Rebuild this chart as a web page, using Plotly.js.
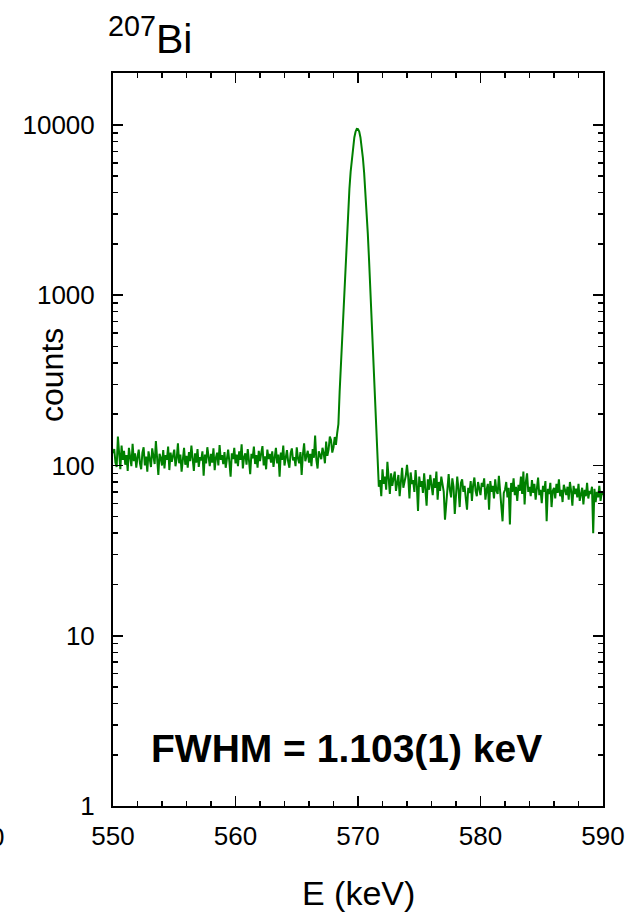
<!DOCTYPE html>
<html>
<head>
<meta charset="utf-8">
<script src="https://cdn.plot.ly/plotly-3.0.1.min.js"></script>
<style>html,body{margin:0;padding:0;background:#fff;}#chart{width:630px;height:920px;}</style>
</head>
<body>
<div id="chart"></div>
<script>
// Energy calibration of the spectrum channels (keV)
const E0 = 550.0;
const dE = 0.1;

// Counts, background left of the peak: 550.0 .. 568.2 keV
const leftCounts = [
  118,125,104,98,148,112,95,131,108,122,
  101,115,93,127,110,99,134,106,118,97,
  112,124,103,95,119,128,100,113,92,121,
  109,98,126,114,102,139,107,88,117,111,
  100,123,96,115,108,129,94,119,105,113,
  124,99,110,135,103,116,92,108,127,101,
  114,97,120,106,131,110,93,118,104,125,
  98,112,107,121,87,116,103,128,110,99,
  117,104,126,94,111,119,100,132,108,115,
  102,120,97,113,124,105,86,118,109,127,
  103,116,99,121,108,133,96,112,118,101,
  125,107,89,117,110,129,102,115,97,122,
  106,118,130,100,113,95,124,109,117,104,
  121,98,111,127,103,116,86,119,108,131,
  100,114,123,105,97,118,126,107,112,99,
  128,110,103,120,88,116,135,106,113,122,
  104,117,99,125,111,150,108,96,121,115,
  109,127,118,103,138,114,124,148,141,119,
  128,147,132
];

// Counts, photopeak region: 568.3 .. 571.7 keV
const peakCounts = [
  155,175,270,380,560,830,1210,1720,2400,3230,
  4220,5320,6450,7530,8450,9130,9480,9460,9150,8450,
  7500,6400,5250,4140,3140,2300,1630,1120,740,490,
  310,200,140,105,75
];

// Counts, background right of the peak: 571.8 .. 590.0 keV
const rightCounts = [
  82,66,
  95,78,86,72,105,81,68,90,76,84,
  92,71,80,88,66,83,97,74,79,87,
  101,85,64,91,78,82,70,94,77,54,
  86,75,81,69,90,76,58,83,72,88,
  79,67,84,74,92,63,80,71,86,76,
  70,48,61,77,89,72,65,84,75,52,
  68,86,73,57,79,83,70,76,64,55,
  74,69,81,62,77,85,71,66,80,73,
  67,79,75,84,63,72,78,55,81,70,
  76,64,83,71,68,87,73,60,47,69,
  72,80,65,74,45,79,70,84,67,75,
  62,77,71,86,68,92,59,80,90,70,
  75,66,82,69,78,63,74,85,67,72,
  60,76,70,81,47,73,68,79,57,71,
  74,64,78,69,83,66,72,61,77,70,
  67,75,63,80,71,58,76,68,73,65,
  78,62,70,74,59,72,66,79,64,71,
  68,75,40,73,61,70,65,76,62,69,
  67
];

const yTickVals = [1, 10, 100, 1000, 10000];
const yTickText = ["1", "10", "100", "1000", "10000"];
const xTickVals = [550, 560, 570, 580, 590];
const xTickText = ["550", "560", "570", "580", "590"];

const counts = leftCounts.concat(peakCounts, rightCounts);
const energy = counts.map((_, i) => +(E0 + i * dE).toFixed(2));

// minor ticks of the log axis (2..9 in each decade)
const yMinor = [];
for (let d = 1; d <= 10000; d *= 10) for (let m = 2; m <= 9; m++) yMinor.push(d * m);

const FONT = "Liberation Sans, Arial, sans-serif";
const L = 113, R = 603, T = 73, B = 806;
const px = x => (x - L) / (R - L);
const py = y => (B - y) / (B - T);

const trace = {
  x: energy, y: counts, type: "scatter", mode: "lines",
  line: {color: "#008000", width: 2}, hoverinfo: "skip"
};

const layout = {
  width: 630, height: 920,
  margin: {l: L, r: 630 - R, t: T, b: 920 - B},
  paper_bgcolor: "#ffffff", plot_bgcolor: "#ffffff",
  showlegend: false,
  font: {family: FONT, color: "#000000"},
  xaxis: {
    range: [550, 590], tickmode: "array", tickvals: xTickVals, ticktext: xTickText,
    ticks: "inside", ticklen: 10, tickwidth: 1.5, tickcolor: "#000",
    minor: {ticks: "inside", dtick: 2, ticklen: 5, tickwidth: 1.5, tickcolor: "#000", showgrid: false},
    showline: true, linecolor: "#000", linewidth: 2, mirror: "allticks",
    showgrid: false, zeroline: false,
    tickfont: {family: FONT, size: 26, color: "#000"}, ticklabelstandoff: 6
  },
  yaxis: {
    type: "log", range: [0, Math.log10(20200)],
    tickmode: "array", tickvals: yTickVals, ticktext: yTickText,
    ticks: "inside", ticklen: 10, tickwidth: 1.5, tickcolor: "#000",
    minor: {ticks: "inside", tickmode: "array", tickvals: yMinor, ticklen: 5, tickwidth: 1.5, tickcolor: "#000", showgrid: false},
    showline: true, linecolor: "#000", linewidth: 2, mirror: "allticks",
    showgrid: false, zeroline: false,
    tickfont: {family: FONT, size: 26, color: "#000"}, ticklabelstandoff: 11
  },
  annotations: [
    {xref: "paper", yref: "paper", x: px(106), y: py(64), xanchor: "left", yanchor: "bottom",
     text: "<sup>207</sup>Bi", showarrow: false, font: {family: FONT, size: 41, color: "#000"}},
    {xref: "paper", yref: "paper", x: px(52), y: py(375), xanchor: "center", yanchor: "middle",
     text: "counts", textangle: -90, showarrow: false, font: {family: FONT, size: 32, color: "#000"}},
    {xref: "paper", yref: "paper", x: px(358), y: py(893), xanchor: "center", yanchor: "middle",
     text: "E (keV)", showarrow: false, font: {family: FONT, size: 34, color: "#000"}},
    {xref: "paper", yref: "paper", x: px(346), y: py(748), xanchor: "center", yanchor: "middle",
     text: "<b>FWHM = 1.103(1) keV</b>", showarrow: false, font: {family: FONT, size: 39, color: "#000"}},
    {xref: "paper", yref: "paper", x: px(6), y: py(837), xanchor: "right", yanchor: "middle",
     text: "0", showarrow: false, font: {family: FONT, size: 26, color: "#000"}}
  ]
};

Plotly.newPlot("chart", [trace], layout, {displayModeBar: false, staticPlot: true});
</script>
</body>
</html>
